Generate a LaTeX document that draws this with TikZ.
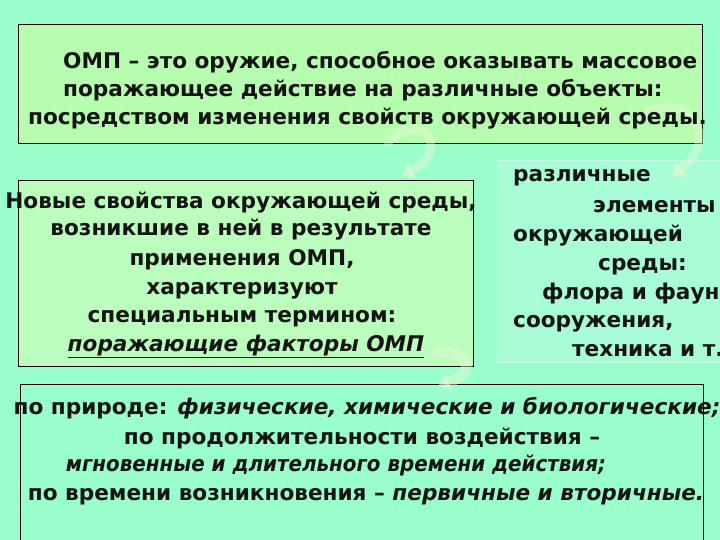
\documentclass[tikz,border=0pt]{standalone}
\usepackage{fontspec}
\setmainfont{DejaVu Sans}
\usetikzlibrary{arrows.meta}
\definecolor{bgmint}{HTML}{99FDCC}
\definecolor{boxgreen}{HTML}{B6FDB0}
\definecolor{boxgreenb}{HTML}{BBFDBC}
\definecolor{rightfill}{HTML}{A8FDD6}
\definecolor{rightedge}{HTML}{C8FDE6}
\definecolor{swoosh}{HTML}{E6FAD2}
\tikzset{
  blackbox/.style={draw=black, line width=0.8pt, inner sep=0pt, anchor=north west},
  txt/.style={inner sep=0pt, anchor=base west, font=\fontsize{21.6}{28}\selectfont\bfseries, text=black!92},
  swooshline/.style={draw=swoosh, opacity=0.45, line width=9pt, line cap=round, -{Triangle[length=12pt,width=20pt]}}
}
\begin{document}
\begin{tikzpicture}[x=1pt,y=-1pt]
\useasboundingbox (0,0) rectangle (720,540);
\clip (0,0) rectangle (720,540);
\fill[bgmint] (0,0) rectangle (720,540);

% boxes
\node[blackbox, fill=boxgreen, minimum width=684pt, minimum height=119pt] (top) at (18,24) {};
\node[blackbox, fill=boxgreenb, minimum width=455pt, minimum height=186pt] (left) at (18,180) {};
\node[draw=rightedge, line width=1.2pt, fill=rightfill, inner sep=0pt, anchor=north west, minimum width=240pt, minimum height=202pt] (right) at (497,160) {};
\node[blackbox, minimum width=683pt, minimum height=170pt] (bottom) at (20,384) {};

% swooshes
\coordinate (s1a) at (388,142);
\coordinate (s1b) at (402,176);
\draw[swooshline] (s1a) .. controls (425,108) and (450,150) .. (s1b);
\coordinate (s2a) at (648,112);
\coordinate (s2b) at (672,176);
\draw[swooshline] (s2a) .. controls (690,92) and (720,140) .. (s2b);
\coordinate (s3a) at (436,352);
\coordinate (s3b) at (438,386);
\draw[swooshline, line width=11pt] (s3a) .. controls (468,350) and (478,372) .. (s3b);

% top text
\node[txt] (t1) at (63,69) {ОМП – это оружие, способное оказывать массовое};
\node[txt] (t2) at (63,97) {поражающее действие на различные  объекты:};
\node[txt] (t3) at (28,125) {посредством изменения свойств окружающей среды.};

% left text
\node[txt, anchor=base] (l1) at (241,208) {Новые свойства окружающей среды,};
\node[txt, anchor=base] (l2) at (241,236) {возникшие в ней в результате};
\node[txt, anchor=base] (l3) at (242,265) {применения ОМП,};
\node[txt, anchor=base] (l4) at (242,294) {характеризуют};
\node[txt, anchor=base] (l5) at (242,322) {специальным термином:};
\node[txt, anchor=base] (l6) at (246,351) {\itshape\underline{поражающие факторы ОМП}};

% right text
\node[txt] (r1) at (513,182) {различные};
\node[txt] (r2) at (593,212) {элементы};
\node[txt] (r3) at (513,241) {окружающей};
\node[txt] (r4) at (598,270) {среды:};
\node[txt] (r5) at (542,299) {флора и фауна};
\node[txt] (r6) at (513,327) {сооружения,};
\node[txt] (r7) at (572,356) {техника и т. п.};

% bottom text
\node[txt, anchor=base] (b1) at (367,414) {по природе:  \itshape физические, химические и биологические;};
\node[txt, anchor=base] (b2) at (362,444) {по  продолжительности воздействия –};
\node[txt, anchor=base] (b3) at (336,471) {\scalebox{0.92}[1]{\itshape мгновенные и длительного времени действия;}};
\node[txt, anchor=base] (b4) at (366,500) {по времени возникновения – \itshape первичные и вторичные.};
\end{tikzpicture}
\end{document}
